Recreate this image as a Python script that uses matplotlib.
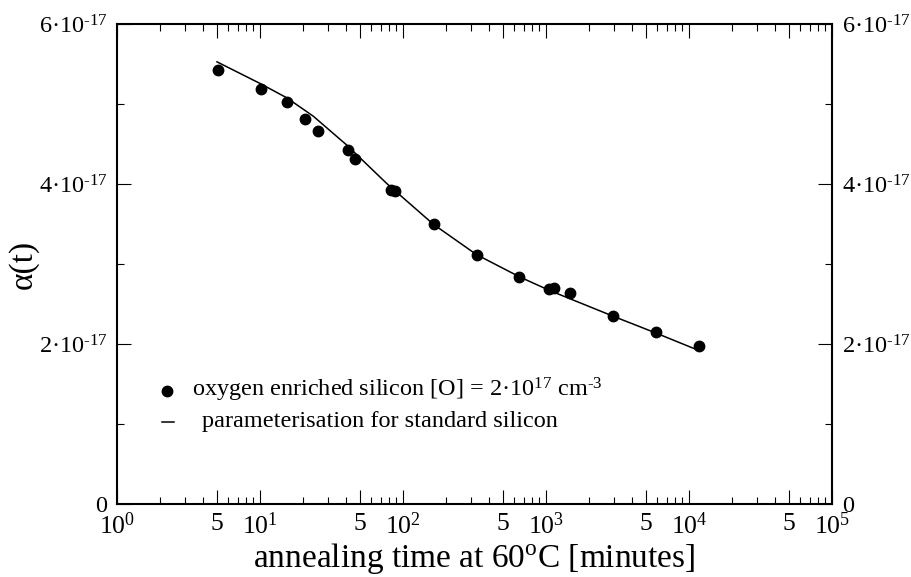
import matplotlib
matplotlib.use("Agg")
import matplotlib.pyplot as plt
from matplotlib.ticker import FixedLocator, FixedFormatter, NullFormatter

plt.rcParams["font.family"] = ["Liberation Serif", "DejaVu Serif"]
plt.rcParams["mathtext.fontset"] = "custom"
plt.rcParams["mathtext.rm"] = "Liberation Serif"
plt.rcParams["mathtext.it"] = "Liberation Serif:italic"
plt.rcParams["mathtext.bf"] = "Liberation Serif:bold"

# measured damage constant, oxygen enriched silicon (time in minutes, alpha in A/cm)
time_meas = [5.1, 10.2, 15.4, 20.5, 25.6, 41, 46, 82.4, 87.9, 165, 327,
             651, 1050, 1143, 1472, 2958, 5880, 11800]
alpha_meas = [5.43e-17, 5.19e-17, 5.03e-17, 4.82e-17, 4.66e-17, 4.43e-17,
              4.32e-17, 3.93e-17, 3.91e-17, 3.50e-17, 3.11e-17, 2.84e-17,
              2.69e-17, 2.70e-17, 2.64e-17, 2.35e-17, 2.15e-17, 1.98e-17]

# parameterisation curve for standard silicon
time_param = [5.0, 10, 15.4, 23.6, 40.4, 76.9, 163, 327, 658, 1067, 2955,
              5880, 11800]
alpha_param = [5.53e-17, 5.26e-17, 5.08e-17, 4.85e-17, 4.49e-17, 4.01e-17,
               3.50e-17, 3.12e-17, 2.84e-17, 2.67e-17, 2.35e-17, 2.14e-17,
               1.92e-17]

x_major = [1, 5, 10, 50, 100, 500, 1000, 5000, 10000, 50000, 100000]
x_major_labels = ["10$^{0}$", "5", "10$^{1}$", "5", "10$^{2}$", "5",
                  "10$^{3}$", "5", "10$^{4}$", "5", "10$^{5}$"]
y_major = [0, 2e-17, 4e-17, 6e-17]
y_major_labels = ["0", "2·10$^{\\text{-17}}$", "4·10$^{\\text{-17}}$",
                  "6·10$^{\\text{-17}}$"]
y_minor = [1e-17, 3e-17, 5e-17]

fig = plt.figure(figsize=(9.12, 5.77), dpi=100)
ax = fig.add_axes([0.1283, 0.126, 0.7840, 0.832])

ax.plot(time_param, alpha_param, color="black", lw=1.1, zorder=2)
ax.plot(time_meas, alpha_meas, "o", color="black", ms=7.5, zorder=3)

ax.set_xscale("log")
ax.set_xlim(1, 1e5)
ax.set_ylim(0, 6e-17)

x_minor = [m * 10 ** d for d in range(5) for m in (2, 3, 4, 6, 7, 8, 9)]
ax.xaxis.set_major_locator(FixedLocator(x_major))
ax.xaxis.set_major_formatter(FixedFormatter(x_major_labels))
ax.xaxis.set_minor_locator(FixedLocator(x_minor))
ax.xaxis.set_minor_formatter(NullFormatter())
ax.yaxis.set_major_locator(FixedLocator(y_major))
ax.yaxis.set_major_formatter(FixedFormatter(y_major_labels))
ax.yaxis.set_minor_locator(FixedLocator(y_minor))

ax.tick_params(which="both", direction="in", top=True, right=True,
               width=0.8, color="black")
ax.tick_params(which="major", length=10)
ax.tick_params(which="minor", length=5)
ax.tick_params(axis="x", which="major", labelsize=18.5, pad=6)
ax.tick_params(axis="y", which="major", labelsize=17.5, pad=7,
               labelright=True)

for sp in ax.spines.values():
    sp.set_linewidth(1.5)

ax.set_xlabel("annealing time at 60$^{\\mathrm{o}}$C [minutes]",
              fontsize=24, labelpad=1)
ax.set_ylabel("α(t)", fontsize=24, labelpad=0)

# legend entries
ax.plot([0.0706], [0.236], "o", color="black", ms=7.5, transform=ax.transAxes,
        clip_on=False)
ax.text(0.1045, 0.224,
        "oxygen enriched silicon [O] = 2·10$^{17}$ cm$^{\\text{-3}}$",
        transform=ax.transAxes, fontsize=17.5, va="baseline", ha="left")
ax.plot([0.0625, 0.0795], [0.172, 0.172], color="black", lw=1.1,
        transform=ax.transAxes, clip_on=False)
ax.text(0.1184, 0.1617, "parameterisation for standard silicon",
        transform=ax.transAxes, fontsize=17.5, va="baseline", ha="left")

fig.savefig("out.png", dpi=100, facecolor="white")
